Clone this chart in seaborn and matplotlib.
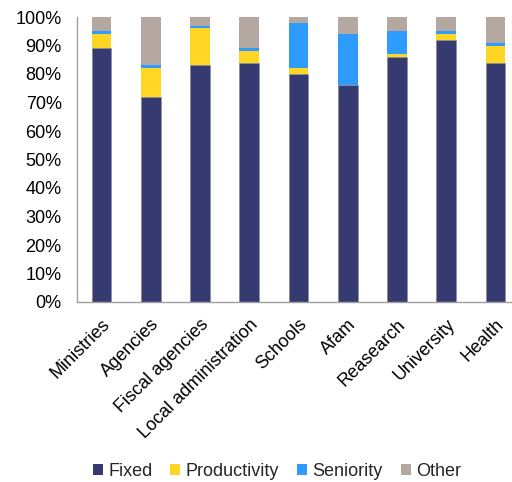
import pandas as pd
import seaborn as sns
import matplotlib.pyplot as plt
from matplotlib.ticker import PercentFormatter
from matplotlib.patches import Patch

categories = ["Ministries", "Agencies", "Fiscal agencies", "Local administration",
              "Schools", "Afam", "Reasearch", "University", "Health"]
fixed = [89, 72, 83, 84, 80, 76, 86, 92, 84]
productivity = [5, 10, 13, 4, 2, 0, 1, 2, 6]
seniority = [1, 1, 1, 1, 16, 18, 8, 1, 1]
other = [5, 17, 3, 11, 2, 6, 5, 5, 9]

series = ["Fixed", "Productivity", "Seniority", "Other"]
colors = {"Fixed": "#353a70", "Productivity": "#ffd624",
          "Seniority": "#2e9bff", "Other": "#b5a8a0"}

df = pd.DataFrame({"category": categories, "Fixed": fixed,
                   "Productivity": productivity, "Seniority": seniority,
                   "Other": other})
# cumulative tops for stacking
cum = df[series].cumsum(axis=1)
cum["category"] = df["category"]

sns.set_style("white")
plt.rcParams['font.family'] = ['Liberation Sans', 'DejaVu Sans']

fig = plt.figure(figsize=(5.12, 4.82), dpi=100)
ax = fig.add_axes([77 / 512, (482 - 302) / 482, 443 / 512, 285 / 482])

for s in reversed(series):
    sns.barplot(data=cum, x="category", y=s, color=colors[s], width=0.4,
                ax=ax, saturation=1, edgecolor="#8a8fb0" if s == "Fixed" else "none",
                linewidth=0.5)

ax.set_xlim(-0.5, 8.5)
ax.set_ylim(0, 100)
ax.set_yticks(range(0, 101, 10))
ax.yaxis.set_major_formatter(PercentFormatter(decimals=0))
ax.set_xlabel("")
ax.set_ylabel("")
ax.tick_params(axis="both", length=0, labelsize=13, colors="black")
ax.tick_params(axis="y", pad=11)
ax.tick_params(axis="x", pad=10)
plt.setp(ax.get_xticklabels(), rotation=45, ha="right", rotation_mode="anchor")

for side in ["top", "right"]:
    ax.spines[side].set_visible(False)
for side in ["left", "bottom"]:
    ax.spines[side].set_color("#a0a0a0")
    ax.spines[side].set_linewidth(1)

handles = [Patch(facecolor=colors[s], edgecolor="none", label=s) for s in series]
fig.legend(handles=handles, loc="center", bbox_to_anchor=(0.541, 0.022),
           ncol=4, frameon=False, fontsize=13, handlelength=0.55,
           handleheight=0.55, handletextpad=0.3, columnspacing=1.0)

fig.savefig("out.png", dpi=100)
